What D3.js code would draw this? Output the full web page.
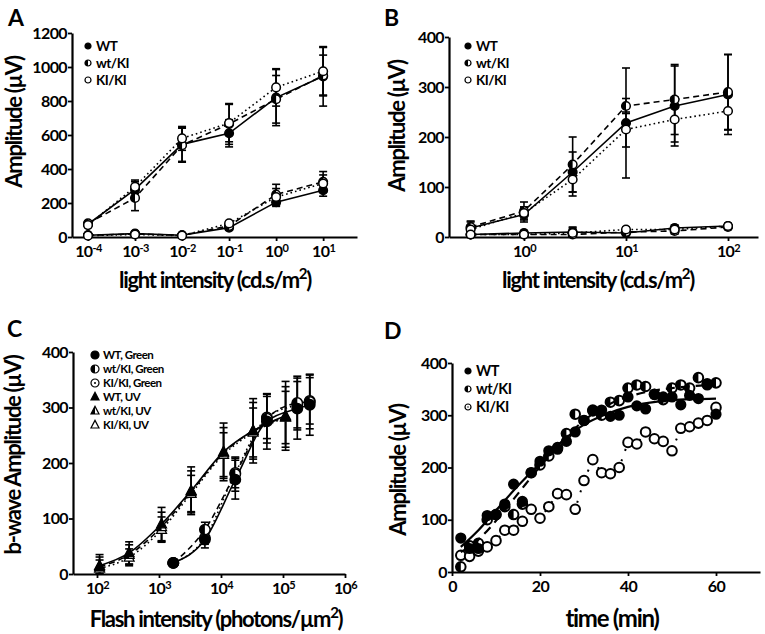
<!DOCTYPE html>
<html lang="en">
<head>
<meta charset="UTF-8">
<title>ERG amplitudes</title>
<script src="https://d3js.org/d3.v7.min.js"></script>
<style>
  body { margin: 0; background: #fff; }
  svg { display: block; font-family: Lato, "Open Sans", sans-serif; font-weight: bold; }
  .axis path { stroke: #000; stroke-width: 2.2; }
  .axis line { stroke: #000; stroke-width: 1.8; }
  .axis text { font-family: Lato, sans-serif; font-size: 16px; font-weight: bold; fill: #000; letter-spacing: -0.6px; }
  .title { font-size: 22px; letter-spacing: -1.3px; fill: #000; }
  .plabel { font-size: 23px; fill: #000; }
  .legend text { font-size: 15px; letter-spacing: -0.5px; fill: #000; }
</style>
</head>
<body>
<svg id="fig" width="765" height="634"></svg>
<script>
// ---- panel A : light intensity (cd.s/m2) ----
const aX = [1e-4, 1e-3, 1e-2, 1e-1, 1, 10];
const aHighWT = [75, 280, 545, 610, 820, 945];
const aHighWtKI = [80, 230, 540, 665, 810, 950];
const aHighKIKI = [70, 295, 580, 670, 880, 975];
const aHighErrWT = [15, 45, 100, 80, 165, 175];
const aHighErrWtKI = [15, 75, 100, 120, 140, 120];
const aHighErrKIKI = [12, 40, 70, 110, 110, 140];
const aLowWT = [10, 20, 10, 55, 205, 275];
const aLowWtKI = [10, 18, 10, 65, 250, 325];
const aLowKIKI = [8, 15, 8, 80, 235, 315];
const aLowErrWT = [5, 8, 5, 15, 25, 35];
const aLowErrWtKI = [5, 8, 5, 15, 60, 60];
const aLowErrKIKI = [5, 6, 4, 10, 50, 50];

// ---- panel B ----
const bX = [0.3, 1, 3, 10, 30, 100];
const bHighWT = [18, 45, 130, 228, 262, 285];
const bHighWtKI = [20, 52, 145, 262, 275, 290];
const bHighKIKI = [15, 48, 115, 215, 235, 252];
const bHighErrWT = [12, 15, 40, 110, 80, 80];
const bHighErrWtKI = [12, 18, 55, 15, 70, 75];
const bHighErrKIKI = [8, 12, 33, 35, 45, 38];
const bLowWT = [5, 8, 10, 8, 18, 22];
const bLowWtKI = [5, 5, 5, 10, 12, 20];
const bLowKIKI = [5, 5, 8, 15, 15, 22];
const bLowErr = [8, 5, 10, 5, 6, 5];

// ---- panel C : flash intensity (photons/um2) ----
const cUvX = [110, 330, 1100, 3300, 11000, 33000, 110000];
const cUvWT = [15, 38, 90, 150, 220, 258, 285];
const cUvWtKI = [13, 35, 85, 148, 218, 258, 283];
const cUvKIKI = [10, 30, 80, 145, 215, 255, 282];
const cUvErr = [20, 20, 30, 43, 52, 58, 62];
const cGreenX = [1700, 5500, 17000, 55000, 170000, 270000];
const cGreenWT = [20, 62, 170, 275, 298, 305];
const cGreenWtKI = [20, 80, 180, 280, 308, 310];
const cGreenKIKI = [20, 65, 182, 282, 305, 312];
const cGreenErr = [3, 15, 35, 50, 55, 55];

// ---- panel D : recovery over time ----
const dT = [2, 4, 6, 8, 10, 12, 14, 16, 18, 20, 22, 24, 26, 28, 30, 32, 34, 36, 38, 40, 42, 44, 46, 48, 50, 52, 54, 56, 58, 60];
const dWT = [65, 45, 45, 108, 110, 130, 168, 135, 190, 212, 232, 235, 250, 268, 290, 308, 310, 298, 300, 335, 318, 312, 340, 335, 335, 320, 338, 332, 358, 302];
const dWtKI = [10, 50, 55, 100, 110, 125, 110, 130, 190, 205, 222, 238, 265, 302, 290, 310, 300, 325, 328, 352, 358, 355, 340, 330, 352, 358, 352, 372, 360, 362];
const dKIKI = [32, 30, 40, 48, 60, 80, 80, 97, 120, 103, 125, 150, 148, 120, 175, 215, 190, 188, 200, 248, 245, 268, 255, 250, 232, 275, 278, 285, 290, 315];
const dFitT = [2, 6, 10, 15, 20, 25, 30, 35, 40, 45, 50, 55, 60];
const dFitWT = [48, 80, 118, 165, 208, 250, 282, 302, 316, 324, 329, 331, 332];
const dFitWtKI = [38, 62, 98, 150, 202, 250, 290, 318, 335, 346, 352, 356, 358];

const genotypes = ["WT", "wt/KI", "KI/KI"];
const cLegend = ["WT, Green", "wt/KI, Green", "KI/KI, Green", "WT, UV", "wt/KI, UV", "KI/KI, UV"];

const svg = d3.select("#fig");
const dashes = { solid: null, dashed: "6,4", dotted: "1.6,3" };

function drawMarker(g, type, cx, cy, r, sw) {
  const m = g.append("g").attr("transform", `translate(${cx},${cy})`);
  const tri = `M0,${-r * 1.15}L${r},${r * 0.75}L${-r},${r * 0.75}Z`;
  const stroke = sw || 1.5;
  if (type === "filled") {
    m.append("circle").attr("r", r).attr("fill", "#000").attr("stroke", "#000").attr("stroke-width", stroke);
  } else if (type === "half") {
    m.append("circle").attr("r", r).attr("fill", "#fff").attr("stroke", "#000").attr("stroke-width", stroke);
    m.append("path").attr("d", `M0,${-r}A${r},${r} 0 0 0 0,${r}Z`).attr("fill", "#000");
  } else if (type === "open" || type === "opendot") {
    m.append("circle").attr("r", r).attr("fill", "#fff").attr("stroke", "#000").attr("stroke-width", stroke);
    if (type === "opendot") m.append("circle").attr("r", r * 0.25).attr("fill", "#000");
  } else if (type === "tri") {
    m.append("path").attr("d", tri).attr("fill", "#000").attr("stroke", "#000").attr("stroke-width", 1.2);
  } else if (type === "trihalf") {
    m.append("path").attr("d", tri).attr("fill", "#fff").attr("stroke", "#000").attr("stroke-width", 1.2);
    m.append("path").attr("d", `M0,${-r * 1.15}L0,${r * 0.75}L${-r},${r * 0.75}Z`).attr("fill", "#000");
  } else if (type === "triopen") {
    m.append("path").attr("d", tri).attr("fill", "#fff").attr("stroke", "#000").attr("stroke-width", 1.2);
  }
}

function drawLine(g, x, y, xs, ys, style, curve, width) {
  return g.append("path")
    .datum(xs.map((v, i) => [v, ys[i]]))
    .attr("fill", "none")
    .attr("stroke", "#000")
    .attr("stroke-width", width || 1.6)
    .attr("stroke-dasharray", dashes[style])
    .attr("d", d3.line().x(d => x(d[0])).y(d => y(d[1])).curve(curve || d3.curveLinear));
}

function drawErrors(g, x, y, xs, ys, errs) {
  xs.forEach((v, i) => {
    const px = x(v), lo = y(Math.max(0, ys[i] - errs[i])), hi = y(ys[i] + errs[i]);
    g.append("line").attr("x1", px).attr("x2", px).attr("y1", lo).attr("y2", hi)
      .attr("stroke", "#000").attr("stroke-width", 1.6);
    [lo, hi].forEach(py => {
      g.append("line").attr("x1", px - 4).attr("x2", px + 4).attr("y1", py).attr("y2", py)
        .attr("stroke", "#000").attr("stroke-width", 1.6);
    });
  });
}

function drawMarkers(g, x, y, xs, ys, type, r, sw) {
  xs.forEach((v, i) => drawMarker(g, type, x(v), y(ys[i]), r, sw));
}

function supTicks(axisG) {
  axisG.selectAll(".tick text").each(function(d) {
    const t = d3.select(this), e = Math.round(Math.log10(d));
    t.text(null);
    t.append("tspan").text("10");
    t.append("tspan").attr("dy", "-0.5em").attr("font-size", "11px").text(e);
  });
}

function axes(x, y, yTicks, xTicks, logX) {
  const xa = svg.append("g").attr("class", "axis")
    .attr("transform", `translate(0,${y.range()[0]})`)
    .call(d3.axisBottom(x).tickValues(xTicks).tickSize(4).tickPadding(5).tickSizeOuter(0)
      .tickFormat(d => String(d)));
  if (logX) supTicks(xa);
  svg.append("g").attr("class", "axis")
    .attr("transform", `translate(${x.range()[0]},0)`)
    .call(d3.axisLeft(y).tickValues(yTicks).tickSize(4).tickPadding(1).tickSizeOuter(0)
      .tickFormat(d3.format("d")));
}

function yTitle(text, px, py) {
  svg.append("text").attr("class", "title")
    .attr("transform", `translate(${px},${py}) rotate(-90)`)
    .attr("text-anchor", "middle").text(text);
}

function xTitle(parts, px, py, size) {
  const t = svg.append("text").attr("class", "title")
    .attr("x", px).attr("y", py).attr("text-anchor", "middle");
  if (size) t.style("font-size", size + "px");
  t.append("tspan").text(parts[0]);
  if (parts.length > 1) {
    t.append("tspan").attr("dy", -9).attr("font-size", "15px").text(parts[1]);
    t.append("tspan").attr("dy", 9).text(parts[2]);
  }
}

function legend(px, rows, labels, types, r, size) {
  const lg = svg.append("g").attr("class", "legend");
  labels.forEach((lab, i) => {
    drawMarker(lg, types[i], px, rows[i], r, 1.2);
    lg.append("text").attr("x", px + 8).attr("y", rows[i]).attr("dy", "0.35em")
      .style("font-size", size + "px").text(lab);
  });
}

function panelLabel(t, px, py) {
  svg.append("text").attr("class", "plabel").attr("x", px).attr("y", py).text(t);
}

const styles = ["solid", "dashed", "dotted"];
const circleTypes = ["filled", "half", "open"];

// ================= A =================
{
  const x = d3.scaleLog().domain([Math.pow(10, -4.34), Math.pow(10, 1.72)]).range([72, 357]);
  const y = d3.scaleLinear().domain([0, 1200]).range([237, 33]);
  axes(x, y, [0, 200, 400, 600, 800, 1000, 1200], aX, true);
  const g = svg.append("g");
  const sets = [
    [aHighWT, aHighWtKI, aHighKIKI, aHighErrWT, aHighErrWtKI, aHighErrKIKI],
    [aLowWT, aLowWtKI, aLowKIKI, aLowErrWT, aLowErrWtKI, aLowErrKIKI]
  ];
  sets.forEach(s => [0, 1, 2].forEach(k => drawLine(g, x, y, aX, s[k], styles[k])));
  sets.forEach(s => [0, 1, 2].forEach(k => drawErrors(g, x, y, aX, s[k], s[k + 3])));
  sets.forEach(s => [0, 1, 2].forEach(k => drawMarkers(g, x, y, aX, s[k], circleTypes[k], 4.3)));
  legend(88, [46, 63, 80], genotypes, circleTypes, 3, 13.5);
  yTitle("Amplitude (\u00b5V)", 22, 122);
  xTitle(["light intensity (cd.s/m", "2", ")"], 215, 288);
  panelLabel("A", 8, 26);
}

// ================= B =================
{
  const x = d3.scaleLog().domain([Math.pow(10, -0.735), Math.pow(10, 2.294)]).range([449, 758]);
  const y = d3.scaleLinear().domain([0, 400]).range([237, 37]);
  axes(x, y, [0, 100, 200, 300, 400], [1, 10, 100], true);
  const g = svg.append("g");
  const high = [bHighWT, bHighWtKI, bHighKIKI], highErr = [bHighErrWT, bHighErrWtKI, bHighErrKIKI];
  const low = [bLowWT, bLowWtKI, bLowKIKI];
  [0, 1, 2].forEach(k => { drawLine(g, x, y, bX, high[k], styles[k]); drawLine(g, x, y, bX, low[k], styles[k]); });
  [0, 1, 2].forEach(k => { drawErrors(g, x, y, bX, high[k], highErr[k]); drawErrors(g, x, y, bX, low[k], bLowErr); });
  [0, 1, 2].forEach(k => { drawMarkers(g, x, y, bX, high[k], circleTypes[k], 4.3); drawMarkers(g, x, y, bX, low[k], circleTypes[k], 4.3); });
  legend(468, [46, 63, 80], genotypes, circleTypes, 3, 13.5);
  yTitle("Amplitude (\u00b5V)", 405, 126);
  xTitle(["light intensity (cd.s/m", "2", ")"], 598, 288);
  panelLabel("B", 384, 26);
}

// ================= C =================
{
  const x = d3.scaleLog().domain([Math.pow(10, 1.613), 1e6]).range([73, 345]);
  const y = d3.scaleLinear().domain([0, 400]).range([574, 352]);
  axes(x, y, [0, 100, 200, 300, 400], [1e2, 1e3, 1e4, 1e5, 1e6], true);
  const g = svg.append("g");
  const uv = [cUvWT, cUvWtKI, cUvKIKI], green = [cGreenWT, cGreenWtKI, cGreenKIKI];
  [0, 1, 2].forEach(k => {
    drawLine(g, x, y, cUvX, uv[k], styles[k], d3.curveMonotoneX);
    drawLine(g, x, y, cGreenX, green[k], styles[k], d3.curveMonotoneX);
  });
  [0, 1, 2].forEach(k => {
    drawErrors(g, x, y, cUvX, uv[k], cUvErr.map(e => e * (1 - 0.12 * k)));
    drawErrors(g, x, y, cGreenX, green[k], cGreenErr.map(e => e * (1 - 0.12 * k)));
  });
  const triTypes = ["tri", "trihalf", "triopen"], greenTypes = ["filled", "half", "opendot"];
  [2, 1, 0].forEach(k => {
    drawMarkers(g, x, y, cUvX, uv[k], triTypes[k], 5);
    drawMarkers(g, x, y, cGreenX, green[k], greenTypes[k], 5.2);
  });
  legend(95, [355, 369, 383, 397, 411, 425], cLegend, greenTypes.concat(triTypes), 4, 11.5);
  yTitle("b-wave Amplitude (\u00b5V)", 21, 455);
  xTitle(["Flash intensity (photons/\u00b5m", "2", ")"], 216, 627);
  panelLabel("C", 7, 337);
}

// ================= D =================
{
  const x = d3.scaleLinear().domain([0, 70]).range([452, 760]);
  const y = d3.scaleLinear().domain([0, 400]).range([572, 363]);
  axes(x, y, [0, 100, 200, 300, 400], [0, 20, 40, 60], false);
  const g = svg.append("g");
  drawLine(g, x, y, dT, dKIKI, "dotted", d3.curveLinear, 2).attr("stroke-dasharray", "2,9");
  drawMarkers(g, x, y, dT, dKIKI, "open", 4.8, 2);
  drawMarkers(g, x, y, dT, dWtKI, "half", 4.8, 2);
  drawMarkers(g, x, y, dT, dWT, "filled", 4.6, 2);
  drawLine(g, x, y, dFitT, dFitWtKI, "dashed", d3.curveMonotoneX, 2.2).attr("stroke-dasharray", "9,6");
  drawLine(g, x, y, dFitT, dFitWT, "solid", d3.curveMonotoneX, 2.2);
  legend(468, [371, 389, 407], genotypes, ["filled", "half", "opendot"], 3, 14.5);
  yTitle("Amplitude (\u00b5V)", 406, 470);
  xTitle(["time (min)"], 612, 627, 24);
  panelLabel("D", 384, 339);
}
</script>
</body>
</html>
